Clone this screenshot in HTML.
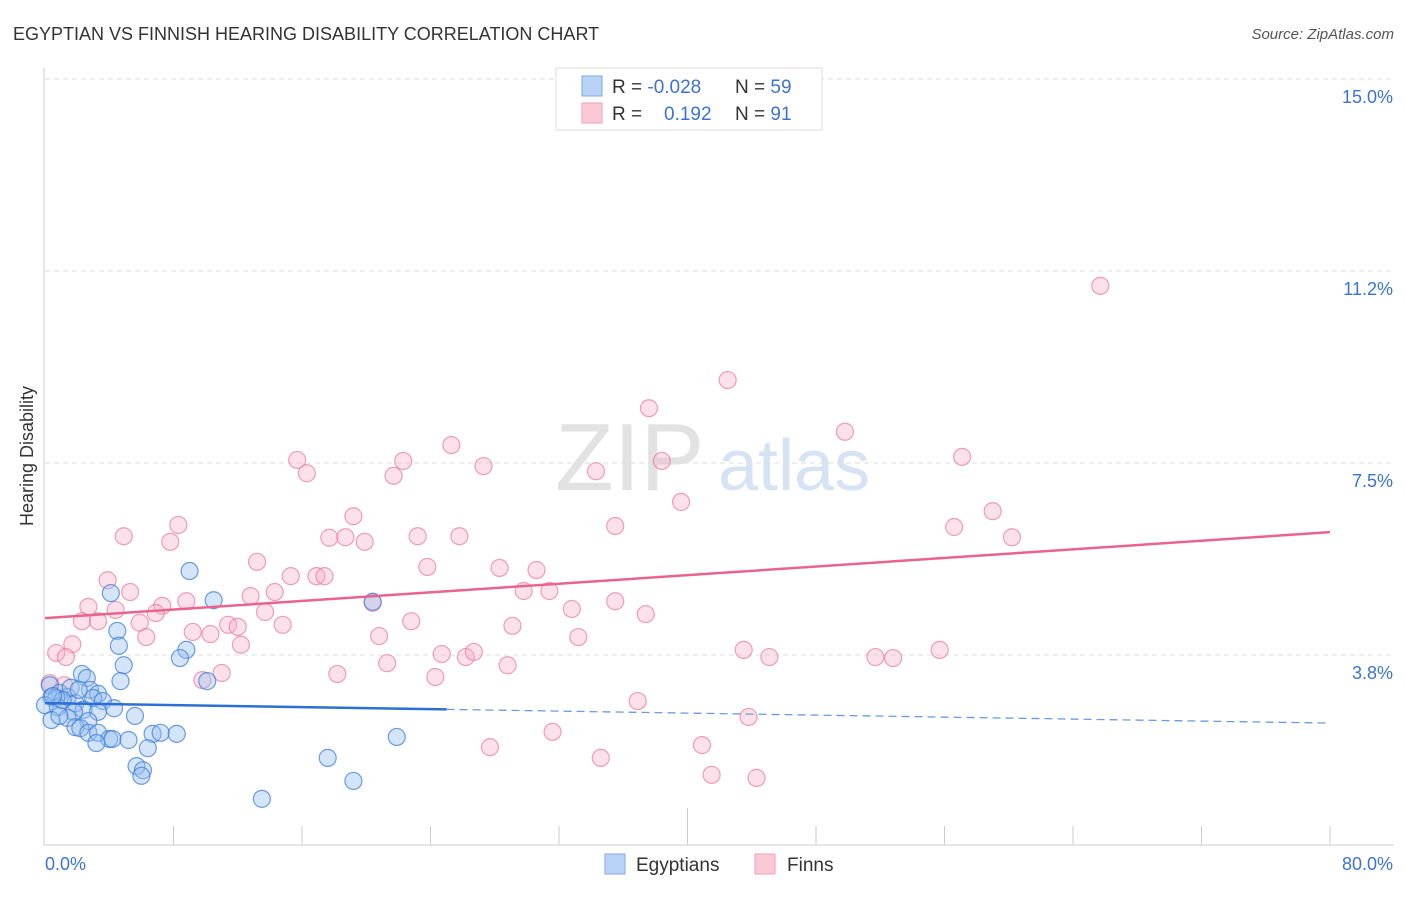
<!DOCTYPE html>
<html><head><meta charset="utf-8"><style>
body{margin:0;background:#fff;font-family:"Liberation Sans",sans-serif;}
svg text{font-family:"Liberation Sans",sans-serif;}
</style></head><body>
<svg id="chart" width="1406" height="892" viewBox="0 0 1406 892" xmlns="http://www.w3.org/2000/svg">
<text x="13" y="40" font-size="18" fill="#333">EGYPTIAN VS FINNISH HEARING DISABILITY CORRELATION CHART</text>
<text x="1394" y="39" font-size="15" fill="#555" text-anchor="end" font-style="italic">Source: ZipAtlas.com</text>
<g>
<text x="555" y="490" font-size="96" fill="#e2e2e2" font-family="Liberation Serif, serif">ZIP</text>
<text x="718" y="490" font-size="72" fill="#d6e3f3">atlas</text>
</g>
<g id="grid"></g>
<g id="axes"></g>
<g id="pts"></g>
<g id="trends"></g>
<text transform="translate(33,456) rotate(-90)" font-size="18" fill="#333" text-anchor="middle">Hearing Disability</text>
<g>
<rect x="556" y="68" width="266" height="62" fill="#fff" stroke="#ddd"/>
<rect x="582" y="76" width="20" height="20" fill="#b8d3f5" stroke="#7eaae6"/>
<rect x="582" y="103" width="20" height="20" fill="#fbc8d6" stroke="#f0a0b8"/>
<text x="612" y="93" font-size="19" fill="#333">R = <tspan fill="#3b74d0">-0.028</tspan></text>
<text x="735" y="93" font-size="19" fill="#333">N = <tspan fill="#3b74d0">59</tspan></text>
<text x="612" y="120" font-size="19" fill="#333">R = </text>
<text x="664" y="120" font-size="19" fill="#3b74d0">0.192</text>
<text x="735" y="120" font-size="19" fill="#333">N = <tspan fill="#3b74d0"> 91</tspan></text>
</g>
<g>
<rect x="605" y="854" width="20" height="20" fill="#b8d3f5" stroke="#7eaae6"/>
<text x="636" y="871" font-size="19" fill="#333">Egyptians</text>
<rect x="755" y="854" width="20" height="20" fill="#fbc8d6" stroke="#f0a0b8"/>
<text x="787" y="871" font-size="19" fill="#333">Finns</text>
</g>
</svg>
<script>
const xTicks=[0,8,16,24,32,40,48,56,64,72,80];
const yTicks=[3.75,7.5,11.25,15];
const yTickLabels=["3.8%","7.5%","11.2%","15.0%"];
const blueX=[9.0,10.5,4.1,20.4,4.5,4.6,8.8,8.4,4.9,2.3,2.6,4.7,10.1,0.3,2.8,3.3,0.9,0.4,1.4,0.7,3.0,3.6,1.9,0,0.8,4.3,2.4,3.3,1.8,5.6,1.4,0.4,2.7,1.9,2.2,2.7,3.3,6.7,7.2,8.2,4.0,4.2,5.2,3.2,6.4,21.9,17.6,5.7,6.1,6.0,19.2,13.5,0.9,1.6,1.1,2.1,0.5];
const blueY=[5.39,4.82,4.96,4.79,4.22,3.93,3.85,3.69,3.55,3.38,3.30,3.24,3.24,3.16,3.07,2.99,3.01,2.93,2.93,2.91,2.91,2.85,2.81,2.77,2.73,2.71,2.68,2.64,2.64,2.56,2.52,2.48,2.46,2.34,2.32,2.23,2.23,2.21,2.23,2.21,2.11,2.11,2.09,2.03,1.93,2.15,1.74,1.58,1.50,1.39,1.29,0.94,2.56,3.11,2.87,3.07,2.95];
const pinkX=[65.7,42.5,37.6,49.8,25.3,57.1,15.7,22.3,38.4,34.3,27.3,16.3,21.7,39.6,59.0,19.2,8.3,35.5,56.6,4.9,60.2,23.2,25.8,17.7,18.7,19.9,7.8,13.2,23.8,28.3,30.6,15.3,16.9,17.4,3.9,5.3,14.3,12.8,29.8,31.4,35.5,8.8,2.7,7.3,4.4,6.9,20.4,13.7,32.8,37.4,2.3,5.9,3.3,11.4,12.0,14.8,22.8,29.1,9.2,10.3,6.3,20.8,33.2,1.7,12.2,0.7,1.3,43.5,45.1,51.7,52.8,55.7,24.7,26.2,26.7,21.3,28.8,18.2,11.0,9.8,24.3,1.2,36.9,43.8,31.6,27.7,40.9,34.6,41.5,44.3,0.3];
const pinkY=[10.96,9.12,8.57,8.11,7.85,7.62,7.56,7.54,7.54,7.34,7.44,7.30,7.25,6.74,6.56,6.46,6.29,6.27,6.25,6.07,6.05,6.07,6.07,6.04,6.05,5.96,5.96,5.57,5.47,5.45,5.41,5.29,5.29,5.29,5.21,4.98,4.98,4.90,5.00,5.00,4.80,4.80,4.69,4.71,4.63,4.57,4.77,4.59,4.65,4.55,4.41,4.38,4.41,4.34,4.30,4.34,4.41,4.32,4.20,4.16,4.10,4.12,4.10,3.96,3.95,3.79,3.71,3.85,3.71,3.71,3.69,3.85,3.77,3.71,3.81,3.59,3.55,3.38,3.40,3.26,3.32,3.16,2.85,2.54,2.25,1.95,1.99,1.74,1.41,1.35,3.2];
const blueTrend=[2.81,2.42]; // y at x=0 and x=80
const blueSolidEnd=25;
const pinkTrend=[4.47,6.15];
const NS="http://www.w3.org/2000/svg";
function sx(v){return 45+v/80*1285;}
function sy(v){return 847-v*51.2;}
function mk(tag,attrs,parent){const e=document.createElementNS(NS,tag);for(const k in attrs)e.setAttribute(k,attrs[k]);document.getElementById(parent).appendChild(e);return e;}
yTicks.forEach((t,i)=>{
 const l=mk('line',{x1:45,x2:1394,y1:sy(t),y2:sy(t),stroke:'#ddd','stroke-dasharray':'5,4'},'grid');
 
 
 const tx=mk('text',{x:1393,y:sy(t)+24,'font-size':18,fill:'#3b74d0','text-anchor':'end'},'grid');
 tx.textContent=yTickLabels[i];
 
 
});
const ax=mk('line',{x1:44,x2:44,y1:68,y2:845,stroke:'#ccc'},'axes');


const bx=mk('line',{x1:44,x2:1394,y1:845,y2:845,stroke:'#ccc'},'axes');


xTicks.forEach((t,i)=>{
 if(i===0)return;
 const tk=mk('line',{x1:sx(t),x2:sx(t),y1:t===40?808:826,y2:845,stroke:'#ccc'},'axes');
 
 
});
[[0,'0.0%','start',45],[80,'80.0%','end',1393]].forEach(a=>{
 const tx=mk('text',{x:a[3],y:870,'font-size':18,fill:'#3b74d0','text-anchor':a[2]},'axes');
 tx.textContent=a[1];
 
 
});
pinkX.forEach((x,i)=>{
 const c=mk('circle',{cx:sx(x),cy:sy(pinkY[i]),r:8.5,fill:'rgba(248,170,195,0.35)',stroke:'rgba(232,120,155,0.7)','stroke-width':1.2},'pts');
 
 
});
blueX.forEach((x,i)=>{
 const c=mk('circle',{cx:sx(x),cy:sy(blueY[i]),r:8.5,fill:'rgba(150,190,240,0.4)',stroke:'rgba(60,125,215,0.75)','stroke-width':1.2},'pts');
 
 
});
function ty(tr,x){return tr[0]+(tr[1]-tr[0])*x/80;}
const pt=mk('line',{x1:sx(0),y1:sy(ty(pinkTrend,0)),x2:sx(80),y2:sy(ty(pinkTrend,80)),stroke:'#e8648e','stroke-width':2.5},'trends');


const bt=mk('line',{x1:sx(0),y1:sy(ty(blueTrend,0)),x2:sx(blueSolidEnd),y2:sy(ty(blueTrend,blueSolidEnd)),stroke:'#2c6fd6','stroke-width':2.5},'trends');


const bd=mk('line',{x1:sx(blueSolidEnd),y1:sy(ty(blueTrend,blueSolidEnd)),x2:sx(80),y2:sy(ty(blueTrend,80)),stroke:'#6a9be0','stroke-width':1.3,'stroke-dasharray':'8,5'},'trends');


</script>
</body></html>
